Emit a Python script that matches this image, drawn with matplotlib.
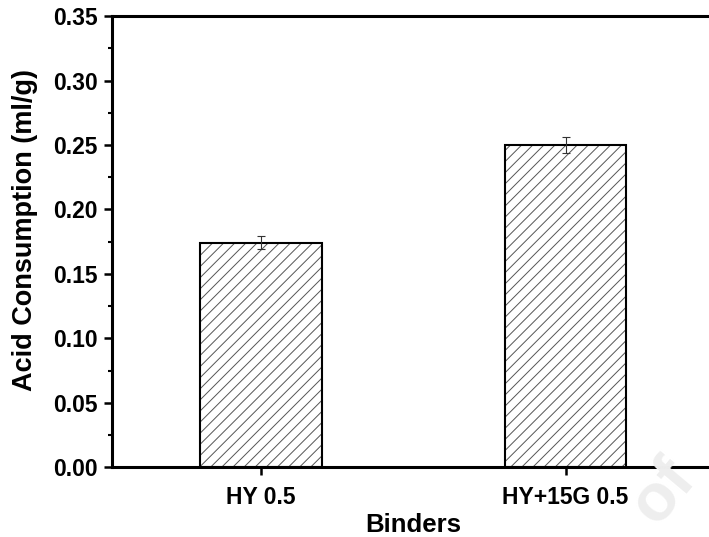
import matplotlib.pyplot as plt
import numpy as np

# data
binders = ['HY 0.5', 'HY+15G 0.5']
acid = [0.174, 0.250]
acid_err = [0.005, 0.006]

plt.rcParams['font.family'] = 'Liberation Sans'
plt.rcParams['font.weight'] = 'bold'
plt.rcParams['hatch.linewidth'] = 0.7

fig = plt.figure(figsize=(7.09, 5.37), dpi=100)
ax = fig.add_axes([0.158, 0.130, 0.85, 0.840])

x = np.arange(len(binders))
# hatch fill in gray, outline in black on top
ax.bar(x, acid, width=0.4, color='white', edgecolor='#555555', hatch='///', linewidth=0, zorder=2)
ax.bar(x, acid, width=0.4, fill=False, edgecolor='black', linewidth=1.5, zorder=3)
ax.errorbar(x, acid, yerr=acid_err, fmt='none', ecolor='#333333', elinewidth=0.8,
            capsize=3, capthick=0.8, zorder=4)

ax.set_xlim(-0.49, 1.49)
ax.set_ylim(0, 0.35)
ax.set_yticks(np.arange(0, 0.351, 0.05))
ax.set_yticks(np.arange(0.025, 0.35, 0.05), minor=True)
ax.set_xticks(x)
ax.set_xticklabels(binders)
ax.yaxis.set_major_formatter(plt.FormatStrFormatter('%.2f'))

for s in ['left', 'bottom', 'top']:
    ax.spines[s].set_linewidth(2.2)
ax.spines['right'].set_visible(False)

ax.tick_params(axis='both', which='major', direction='out', length=5.5, width=1.8,
               labelsize=16.5, pad=5)
ax.tick_params(axis='x', which='major', pad=8)
ax.tick_params(axis='y', which='minor', direction='out', length=3, width=1.5)
ax.tick_params(axis='x', which='minor', bottom=False)

ax.set_ylabel('Acid Consumption (ml/g)', fontsize=19.5, fontweight='bold')
ax.yaxis.set_label_coords(-0.122, 0.525)
ax.set_xlabel('Binders', fontsize=18.5, fontweight='bold', labelpad=3)

# faint watermark
fig.text(0.935, 0.085, 'of', fontsize=48, color='#eeeeee', rotation=50,
         ha='center', va='center', zorder=0)

fig.savefig('out.png', dpi=100)
